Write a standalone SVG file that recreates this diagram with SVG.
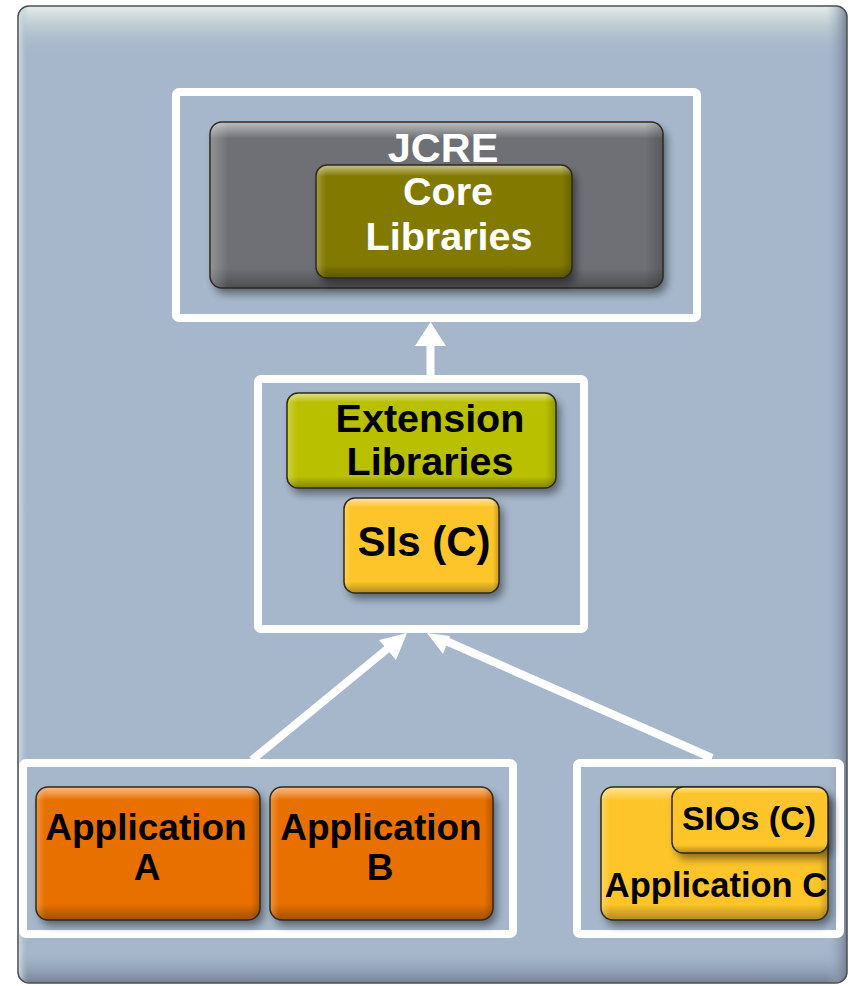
<svg xmlns="http://www.w3.org/2000/svg" width="850" height="986" viewBox="0 0 850 986">
  <defs>
    <style>
      .frame { fill: none; stroke: #ffffff; stroke-width: 8; stroke-linejoin: round; }
      .box-edge { fill: none; stroke: #2e2a1e; stroke-width: 1.5; }
      .lbl { font-family: "Liberation Sans", Arial, Helvetica, sans-serif; font-weight: bold; text-anchor: middle; }
      .dark { fill: #000000; }
      .light { fill: #ffffff; }
      .conn { stroke: #ffffff; stroke-width: 8; fill: none; }
      .head { fill: #ffffff; }
    </style>
    <!-- soft drop shadow under the rounded boxes -->
    <filter id="shadow" x="-20%" y="-20%" width="150%" height="160%">
      <feGaussianBlur in="SourceAlpha" stdDeviation="4"/>
      <feOffset dx="4" dy="6" result="b"/>
      <feComponentTransfer><feFuncA type="linear" slope="0.45"/></feComponentTransfer>
      <feMerge><feMergeNode/><feMergeNode in="SourceGraphic"/></feMerge>
    </filter>
    <!-- bevel: light top rim, darker bottom rim -->
    <linearGradient id="bevel" x1="0" y1="0" x2="0" y2="1">
      <stop offset="0" stop-color="#ffffff" stop-opacity="0.55"/>
      <stop offset="0.1" stop-color="#ffffff" stop-opacity="0"/>
      <stop offset="0.88" stop-color="#000000" stop-opacity="0"/>
      <stop offset="1" stop-color="#000000" stop-opacity="0.3"/>
    </linearGradient>
    <linearGradient id="sideBevel" x1="0" y1="0" x2="1" y2="0">
      <stop offset="0" stop-color="#ffffff" stop-opacity="0.25"/>
      <stop offset="0.04" stop-color="#ffffff" stop-opacity="0"/>
      <stop offset="0.96" stop-color="#000000" stop-opacity="0"/>
      <stop offset="1" stop-color="#000000" stop-opacity="0.2"/>
    </linearGradient>
    <linearGradient id="panelTop" x1="0" y1="0" x2="0" y2="1">
      <stop offset="0" stop-color="#e6ecea" stop-opacity="1"/>
      <stop offset="0.018" stop-color="#c9d6d6" stop-opacity="0.8"/>
      <stop offset="0.05" stop-color="#a6b7cb" stop-opacity="0"/>
      <stop offset="0.965" stop-color="#a6b7cb" stop-opacity="0"/>
      <stop offset="1" stop-color="#6f7b8c" stop-opacity="0.9"/>
    </linearGradient>
    <linearGradient id="panelSide" x1="0" y1="0" x2="1" y2="0">
      <stop offset="0" stop-color="#dfe6e4" stop-opacity="0.9"/>
      <stop offset="0.012" stop-color="#a6b7cb" stop-opacity="0"/>
      <stop offset="0.975" stop-color="#a6b7cb" stop-opacity="0"/>
      <stop offset="1" stop-color="#6f7b8c" stop-opacity="0.9"/>
    </linearGradient>
  </defs>

  <rect width="850" height="986" fill="#ffffff"/>

  <!-- outer panel -->
  <g id="panel">
    <rect x="18" y="6" width="829" height="977" rx="11" fill="#a6b7cb"/>
    <rect x="18" y="6" width="829" height="977" rx="11" fill="url(#panelTop)"/>
    <rect x="18" y="6" width="829" height="977" rx="11" fill="url(#panelSide)"/>
    <rect x="18" y="6" width="829" height="977" rx="11" fill="none" stroke="#4a4f57" stroke-width="1.5"/>
  </g>

  <!-- connectors -->
  <g id="connectors">
    <line class="conn" x1="430.5" y1="378" x2="430.5" y2="340"/>
    <polygon class="head" points="430.5,322 415,346 446,346"/>
    <line class="conn" x1="252" y1="760" x2="392" y2="645"/>
    <polygon class="head" points="407,633 379,640 396,660"/>
    <line class="conn" x1="712" y1="758" x2="446" y2="641"/>
    <polygon class="head" points="427,633 450,636 443,654"/>
  </g>

  <!-- JCRE group -->
  <g id="jcre-frame">
    <rect class="frame" x="176" y="92" width="521" height="226" rx="3"/>
  </g>
  <g id="jcre">
    <rect x="210" y="122" width="453" height="166" rx="12" fill="#6e7074" filter="url(#shadow)"/>
    <rect x="210" y="122" width="453" height="166" rx="12" fill="url(#bevel)"/>
    <rect x="210" y="122" width="453" height="166" rx="12" fill="url(#sideBevel)"/>
    <rect class="box-edge" x="210" y="122" width="453" height="166" rx="12"/>
    <text class="lbl light" x="443" y="162" font-size="41.5">JCRE</text>
  </g>
  <g id="core-libraries">
    <rect x="316" y="165" width="256" height="113" rx="11" fill="#827a00" filter="url(#shadow)"/>
    <rect x="316" y="165" width="256" height="113" rx="11" fill="url(#bevel)"/>
    <rect x="316" y="165" width="256" height="113" rx="11" fill="url(#sideBevel)"/>
    <rect class="box-edge" x="316" y="165" width="256" height="113" rx="11"/>
    <text class="lbl light" x="448" y="205" font-size="39.5">Core</text>
    <text class="lbl light" x="449" y="250" font-size="39.5">Libraries</text>
  </g>

  <!-- extension group -->
  <g id="extension-frame">
    <rect class="frame" x="258" y="379" width="326" height="250" rx="3"/>
  </g>
  <g id="extension-libraries">
    <rect x="287" y="393" width="269" height="95" rx="11" fill="#b9c000" filter="url(#shadow)"/>
    <rect x="287" y="393" width="269" height="95" rx="11" fill="url(#bevel)"/>
    <rect x="287" y="393" width="269" height="95" rx="11" fill="url(#sideBevel)"/>
    <rect class="box-edge" x="287" y="393" width="269" height="95" rx="11"/>
    <text class="lbl dark" x="430" y="432" font-size="39.5">Extension</text>
    <text class="lbl dark" x="430" y="475" font-size="39.5">Libraries</text>
  </g>
  <g id="sis-c">
    <rect x="344" y="498" width="155" height="95" rx="11" fill="#fdc52a" filter="url(#shadow)"/>
    <rect x="344" y="498" width="155" height="95" rx="11" fill="url(#bevel)"/>
    <rect x="344" y="498" width="155" height="95" rx="11" fill="url(#sideBevel)"/>
    <rect class="box-edge" x="344" y="498" width="155" height="95" rx="11"/>
    <text class="lbl dark" x="424" y="556" font-size="42">SIs (C)</text>
  </g>

  <!-- applications A and B -->
  <g id="apps-ab-frame">
    <rect class="frame" x="23" y="763" width="490" height="171" rx="3"/>
  </g>
  <g id="application-a">
    <rect x="36" y="787" width="224" height="133" rx="12" fill="#e86f00" filter="url(#shadow)"/>
    <rect x="36" y="787" width="224" height="133" rx="12" fill="url(#bevel)"/>
    <rect x="36" y="787" width="224" height="133" rx="12" fill="url(#sideBevel)"/>
    <rect class="box-edge" x="36" y="787" width="224" height="133" rx="12"/>
    <text class="lbl dark" x="146" y="840" font-size="37">Application</text>
    <text class="lbl dark" x="147" y="880" font-size="37">A</text>
  </g>
  <g id="application-b">
    <rect x="270" y="787" width="223" height="133" rx="12" fill="#e86f00" filter="url(#shadow)"/>
    <rect x="270" y="787" width="223" height="133" rx="12" fill="url(#bevel)"/>
    <rect x="270" y="787" width="223" height="133" rx="12" fill="url(#sideBevel)"/>
    <rect class="box-edge" x="270" y="787" width="223" height="133" rx="12"/>
    <text class="lbl dark" x="381" y="840" font-size="37">Application</text>
    <text class="lbl dark" x="380" y="880" font-size="37">B</text>
  </g>

  <!-- application C -->
  <g id="app-c-frame">
    <rect class="frame" x="577" y="763" width="263" height="171" rx="3"/>
  </g>
  <g id="application-c">
    <rect x="601" y="787" width="227" height="133" rx="12" fill="#fdc52a" filter="url(#shadow)"/>
    <rect x="601" y="787" width="227" height="133" rx="12" fill="url(#bevel)"/>
    <rect x="601" y="787" width="227" height="133" rx="12" fill="url(#sideBevel)"/>
    <rect class="box-edge" x="601" y="787" width="227" height="133" rx="12"/>
    <text class="lbl dark" x="716" y="897" font-size="34.5">Application C</text>
  </g>
  <g id="sios-c">
    <rect x="672" y="787" width="156" height="66" rx="11" fill="#fdc52a" filter="url(#shadow)"/>
    <rect x="672" y="787" width="156" height="66" rx="11" fill="url(#bevel)"/>
    <rect class="box-edge" x="672" y="787" width="156" height="66" rx="11"/>
    <text class="lbl dark" x="749" y="830" font-size="34">SIOs (C)</text>
  </g>
</svg>
